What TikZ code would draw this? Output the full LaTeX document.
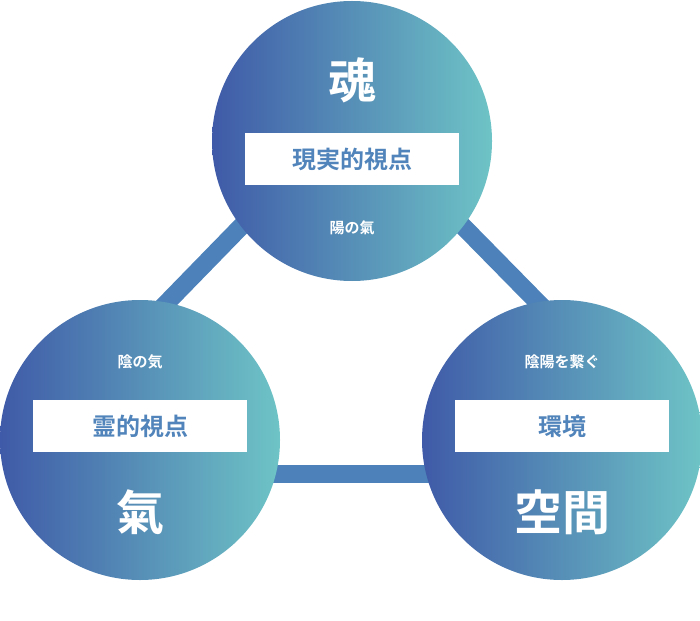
\documentclass[tikz,border=0pt]{standalone}
\usepackage{fontspec}
\newfontfamily\cjk{Noto Sans CJK JP}[BoldFont={Noto Sans CJK JP Bold}]
\usepackage{tikz}
\definecolor{myblue}{RGB}{63,90,168}
\definecolor{myteal}{RGB}{110,196,198}
\definecolor{mybar}{RGB}{76,130,185}
\definecolor{mytext}{RGB}{80,132,186}

\tikzset{
    ball/.style={circle, minimum size=280pt, inner sep=0pt, left color=myblue, right color=myteal},
    label box/.style={fill=white, minimum width=214pt, minimum height=52pt, inner sep=0pt, text=mytext, font=\cjk\bfseries\fontsize{24}{24}\selectfont},
    small/.style={text=white, font=\cjk\bfseries\fontsize{15}{15}\selectfont},
    big/.style={text=white, font=\cjk\bfseries\fontsize{48}{48}\selectfont},
    bar/.style={line width=18pt, mybar}
}

\begin{document}
\begin{tikzpicture}[x=1pt, y=-1pt]
    \useasboundingbox (0, 0) rectangle (700, 620);
    % Bars behind the circles
    \coordinate (lt1) at (150, 320);
    \coordinate (lt2) at (262, 205);
    \coordinate (rt1) at (445, 208);
    \coordinate (rt2) at (560, 325);
    \coordinate (b1) at (260, 474);
    \coordinate (b2) at (445, 474);
    \draw[bar] (lt1) -- (lt2);
    \draw[bar] (rt1) -- (rt2);
    \draw[bar] (b1) -- (b2);
    % Circles
    \node[ball] (top) at (352, 141) {};
    \node[ball] (left) at (140, 440) {};
    \node[ball] (right) at (562, 440) {};
    % Top texts
    \node[big] (soul) at (352, 80) {魂};
    \node[label box] (real) at (352, 159) {現実的視点};
    \node[small] (yang) at (352, 228) {陽の氣};
    % Left texts
    \node[small] (yin) at (140, 362) {陰の気};
    \node[label box] (spirit) at (140, 426) {霊的視点};
    \node[big] (ki) at (140, 512) {氣};
    % Right texts
    \node[small] (link) at (562, 362) {陰陽を繋ぐ};
    \node[label box] (env) at (562, 426) {環境};
    \node[big] (space) at (562, 512) {空間};
\end{tikzpicture}
\end{document}
